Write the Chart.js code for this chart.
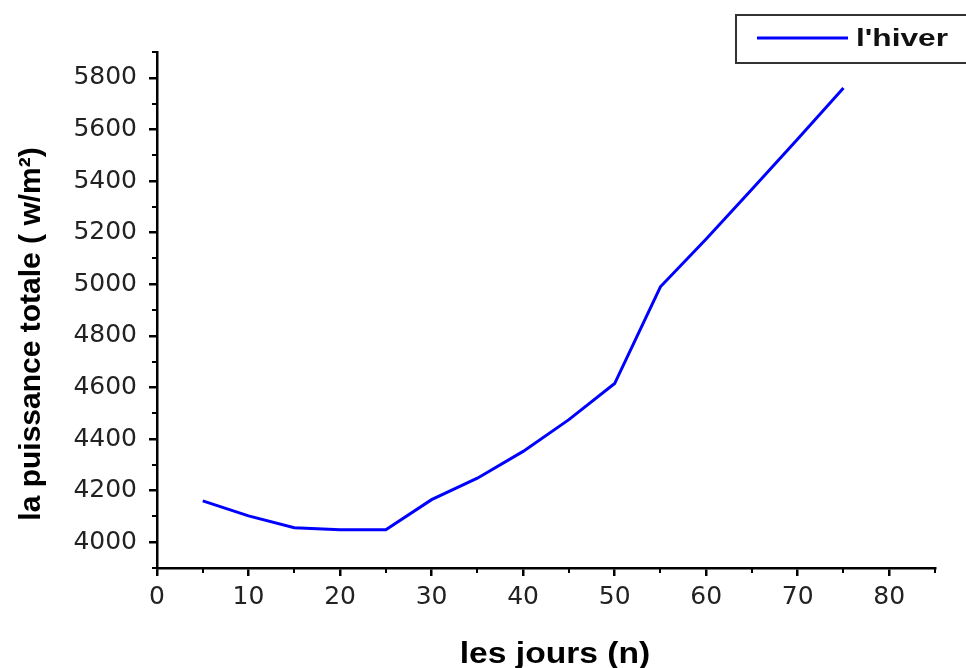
<!DOCTYPE html>
<html>
<head>
<meta charset="utf-8">
<script src="https://cdn.jsdelivr.net/npm/chart.js@4.4.1/dist/chart.umd.min.js"></script>
<style>
  html,body{margin:0;padding:0;background:#fff;}
  #wrap{width:966px;height:668px;position:relative;}
</style>
</head>
<body>
<div id="wrap"><canvas id="chart"></canvas></div>
<script>
(function(){
  // data
  const days = [5,10,15,20,25,30,35,40,45,50,55,60,65,70,75];
  const puissance = [4160,4102,4056,4048,4048,4165,4248,4352,4475,4615,4990,5175,5368,5563,5760];
  const xTicks = [0,10,20,30,40,50,60,70,80];
  const yTicks = [4000,4200,4400,4600,4800,5000,5200,5400,5600,5800];
  const xMinor = [5,15,25,35,45,55,65,75,85];
  const yMinor = [3900,4100,4300,4500,4700,4900,5100,5300,5500,5700,5900];
  const seriesLabel = "l'hiver";
  const xTitle = 'les jours (n)';
  const yTitle = 'la puissance totale ( w/m\u00b2)';

  // stretched text helper
  function stretchText(ctx, txt, x, y, sx, align){
    ctx.save();
    ctx.translate(x, y);
    ctx.scale(sx, 1);
    ctx.textAlign = align || 'left';
    ctx.fillText(txt, 0, 0);
    ctx.restore();
  }

  const extras = {
    id: 'extras',
    afterDraw(chart){
      const ctx = chart.ctx, xs = chart.scales.x, ys = chart.scales.y;
      const ax = chart.chartArea;
      ctx.save();
      // minor ticks
      ctx.strokeStyle = '#000'; ctx.lineWidth = 2;
      ctx.beginPath();
      xMinor.forEach(v=>{ const p = Math.round(xs.getPixelForValue(v)); ctx.moveTo(p, ax.bottom); ctx.lineTo(p, ax.bottom+5); });
      yMinor.forEach(v=>{ const p = Math.round(ys.getPixelForValue(v)); ctx.moveTo(ax.left-5, p); ctx.lineTo(ax.left, p); });
      ctx.stroke();

      // axis titles
      ctx.fillStyle = '#000';
      ctx.textBaseline = 'middle';
      ctx.font = 'bold 30px "Liberation Sans", Arial, sans-serif';
      stretchText(ctx, xTitle, 555, 655, 1.12, 'center');
      ctx.save();
      ctx.translate(32, 334);
      ctx.rotate(-Math.PI/2);
      ctx.textAlign = 'center';
      ctx.fillText(yTitle, 0, 0);
      ctx.restore();

      // legend box
      const ds = chart.data.datasets[0];
      ctx.strokeStyle = '#333'; ctx.lineWidth = 2;
      ctx.strokeRect(736, 15, 240, 48);
      ctx.strokeStyle = ds.borderColor; ctx.lineWidth = 3;
      ctx.beginPath(); ctx.moveTo(757, 38); ctx.lineTo(848, 38); ctx.stroke();
      ctx.fillStyle = '#111';
      ctx.font = 'bold 24px "Liberation Sans", Arial, sans-serif';
      stretchText(ctx, ds.label, 856, 39, 1.32, 'left');
      ctx.restore();
    }
  };

  const tickFont = { family: '"DejaVu Sans", sans-serif', size: 25 };
  const plain = v => String(v);

  new Chart(document.getElementById('chart'), {
    type: 'line',
    data: {
      datasets: [{
        label: seriesLabel,
        data: days.map((d,i)=>({x:d, y:puissance[i]})),
        borderColor: '#0000ff',
        borderWidth: 3,
        pointRadius: 0,
        tension: 0,
        fill: false
      }]
    },
    options: {
      responsive: true,
      maintainAspectRatio: false,
      animation: false,
      layout: { padding: { top: 52, right: 31, left: 0, bottom: 0 } },
      plugins: { legend: { display: false }, tooltip: { enabled: false } },
      scales: {
        x: {
          type: 'linear', min: 0, max: 85,
          afterBuildTicks: s => { s.ticks = xTicks.map(v=>({value:v})); },
          afterFit: s => { s.height = 100; },
          border: { display: true, color: '#000', width: 2.5 },
          grid: { drawOnChartArea: false, drawTicks: true, tickLength: 8, lineWidth: 2.5, tickWidth: 2.5, tickColor: '#000', color: '#000' },
          ticks: { color: '#222', font: tickFont, padding: 6, maxRotation: 0, callback: plain }
        },
        y: {
          type: 'linear', min: 3900, max: 5900,
          afterBuildTicks: s => { s.ticks = yTicks.map(v=>({value:v})); },
          afterFit: s => { s.width = 157; },
          border: { display: true, color: '#000', width: 2.5 },
          grid: { drawOnChartArea: false, drawTicks: true, tickLength: 8, lineWidth: 2.5, tickWidth: 2.5, tickColor: '#000', color: '#000' },
          ticks: { color: '#222', font: tickFont, padding: 12, callback: plain }
        }
      }
    },
    plugins: [extras]
  });
})();
</script>
</body>
</html>
